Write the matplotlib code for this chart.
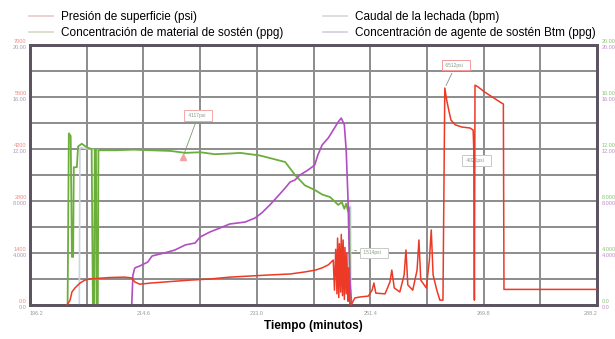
import matplotlib.pyplot as plt
from matplotlib.lines import Line2D

plt.rcParams['font.family'] = ['Liberation Sans', 'DejaVu Sans']

# presion de superficie (psi) vs tiempo (min)
t_pres = [202.2, 202.7, 203.0, 203.5, 204.3, 205.1, 205.9, 207.5, 209.2, 211.5,
          212.7, 213.2, 214.0, 215.7, 217.3, 219.7, 222.2, 225.4, 228.6, 231.9,
          235.2, 238.4, 240.8, 242.5, 243.6, 244.6, 245.4,
          245.6, 245.8, 246.0, 246.1, 246.3, 246.4, 246.6, 246.7, 246.9, 247.0,
          247.2, 247.3, 247.5, 247.6, 247.8, 247.9, 248.1, 248.3,
          248.9, 249.7, 251.1, 251.7, 252.0, 252.3, 253.8, 254.6, 254.9, 255.3,
          256.2, 256.9, 257.2, 257.5, 258.3, 259.0, 259.3, 259.6, 260.5, 261.0,
          261.3, 261.6, 262.2, 262.7, 263.2, 263.5, 263.8, 264.2, 264.5, 265.2,
          266.3, 267.6, 268.1, 268.2, 268.3, 268.4, 268.9, 270.0, 271.2, 272.5,
          273.0, 273.1, 288.2]
pres = [0, 130, 350, 460, 590, 670, 700, 720, 740, 750,
        730, 620, 560, 590, 610, 640, 670, 700, 750, 780,
        810, 835, 890, 940, 1000, 1080, 1210,
        400, 1500, 300, 1800, 200, 1650, 350, 1900, 250, 1750,
        150, 1550, 300, 1400, 100, 1000, 50, 0,
        190, 215, 240, 400, 590, 320, 300, 620, 940, 460,
        350, 810, 1480, 540, 400, 940, 1750, 670, 460, 1210,
        2020, 810, 400, 130, 130, 5840, 5520, 5200, 4980, 4850,
        4790, 4765, 4710, 4170, 130, 5920, 5870, 5730, 5600, 5460,
        5410, 420, 420]

# concentracion de material de sosten (ppg)
t_mat = [202.3, 202.5, 202.8, 203.0, 203.2, 203.3, 203.8, 204.0, 204.6, 205.5,
         206.2, 206.4, 206.6, 206.7, 206.9, 207.0, 207.2, 207.3, 210.0, 213.0,
         216.0, 219.0, 221.4, 223.8, 226.2, 228.6, 230.3, 233.5, 237.6, 239.2,
         240.8, 242.4, 243.6, 244.9, 246.2, 246.8, 247.2, 247.5, 247.8, 248.0,
         248.1, 248.3]
mat = [0, 13.2, 13.0, 3.7, 3.7, 10.6, 10.6, 12.2, 12.4, 12.1,
       12.0, 0, 0, 12.0, 12.0, 0, 0, 11.9, 11.9, 11.95,
       11.9, 11.85, 11.7, 11.75, 11.6, 11.65, 11.7, 11.5, 11.0, 10.0,
       9.2, 8.85, 8.5, 8.3, 7.7, 7.9, 7.4, 7.8, 7.2, 7.5,
       0, 0]

# concentracion de agente de sosten Btm (ppg)
t_btm = [212.4, 212.7, 212.9, 213.2, 214.0, 215.3, 216.0, 217.3, 218.6, 219.7,
         221.4, 223.0, 223.8, 225.4, 227.0, 228.6, 231.1, 232.7, 233.8, 235.1,
         236.3, 237.6, 238.4, 239.2, 240.0, 241.3, 242.4, 242.9, 243.6, 244.6,
         245.4, 246.2, 246.7, 247.2, 247.5, 247.8, 248.1, 248.4]
btm = [0, 0, 2.3, 2.85, 3.0, 3.3, 3.77, 3.92, 4.08, 4.23,
       4.62, 4.77, 5.23, 5.62, 5.92, 6.23, 6.38, 6.69, 7.08, 7.69,
       8.31, 9.0, 9.46, 9.62, 10.0, 10.38, 10.77, 11.54, 12.31, 12.85,
       13.46, 14.08, 14.38, 13.85, 11.9, 8.08, 1.9, 0]

# caudal de la lechada (bpm), casi oculto bajo las otras curvas
t_caudal = [204.2, 204.3, 207.3, float('nan'), 248.2, 248.25]
caudal = [0, 12.1, 11.9, float('nan'), 7.6, 0]

x_ticks = [196.2, 205.4, 214.6, 223.8, 233.0, 242.2, 251.4, 260.6, 269.8, 279.0, 288.2]
x_labels = ['196.2', '', '214.6', '', '233.0', '', '251.4', '', '269.8', '', '288.2']
psi_labels = ['0.0', '1400', '2800', '4200', '5600', '7000']
ppg_labels = ['0.0', '4.000', '8.000', '12.00', '16.00', '20.00']

# notas: (texto, t marca, psi marca, t caja, psi caja, color borde)
notes = [('4117psi', 221.0, 3984, 223.5, 5100, '#f2a8a8'),
         ('6512psi', 263.5, 5840, 265.3, 6460, '#f29a9a'),
         ('4021psi', 268.2, 4170, 268.6, 3900, '#c8c8c8'),
         ('1514psi', 248.4, 1480, 252.0, 1400, '#c8c8c8')]

fig = plt.figure(figsize=(6.15, 3.39), dpi=100)
ax = fig.add_axes([0.0488, 0.1003, 0.922, 0.767])
ax2 = ax.twinx()

ax.set_xlim(196.2, 288.2)
ax.set_ylim(0, 7000)
ax2.set_ylim(0, 20)

ax.set_xticks(x_ticks)
ax.set_xticklabels(x_labels, fontsize=4, color='#9a9a9a')
ax.set_yticks(range(0, 7001, 700))
ax.set_yticklabels([])
ax.tick_params(length=0, pad=4)
ax2.set_yticks([])
labs = ax.get_xticklabels()
labs[0].set_ha('left')
labs[-1].set_ha('right')
ax.grid(True, color='#8c8c8c', lw=1.4)
ax.set_axisbelow(True)
for a in (ax, ax2):
    for s in a.spines.values():
        s.set_color('#5c5460')
        s.set_linewidth(2)

ax2.plot(t_caudal, caudal, color='#cdd5e2', lw=1.2, zorder=1)
ax2.plot(t_mat, mat, color='#6cae3c', lw=1.3, zorder=2)
ax2.plot(t_btm, btm, color='#b24dc4', lw=1.2, zorder=2)
ax2.plot(t_pres, [p / 350.0 for p in pres], color='#ec3a26', lw=1.1, zorder=3)

ax.set_xlabel('Tiempo (minutos)', fontsize=8.5, fontweight='bold', labelpad=3)

ytr = ax.get_yaxis_transform()
for i in range(6):
    v = i * 1400
    ax.text(-0.006, v + 20, psi_labels[i], transform=ytr, ha='right', va='bottom',
            fontsize=4, color='#ee8a8a')
    ax.text(-0.006, v - 10, ppg_labels[i], transform=ytr, ha='right', va='top',
            fontsize=4, color='#a89ab8')
    ax.text(1.008, v + 20, ppg_labels[i], transform=ytr, ha='left', va='bottom',
            fontsize=4, color='#8cc47a')
    ax.text(1.008, v - 10, ppg_labels[i], transform=ytr, ha='left', va='top',
            fontsize=4, color='#c08ac8')

for txt, tm, pm, tb, pb, ec in notes:
    ax.annotate(' ' + txt + '   ', xy=(tm, pm), xytext=(tb, pb), fontsize=3.5,
                color='#8a9a88', ha='center', va='center', zorder=5,
                bbox=dict(boxstyle='square,pad=0.6', fc='white', ec=ec, lw=0.7),
                arrowprops=dict(arrowstyle='-', color='#7a9a70', lw=0.6))
ax.plot([221.0], [3984], marker='^', ms=4, color='#f4a0a0', zorder=6)

handles = [Line2D([], [], color='#e6caca', lw=1.2),
           Line2D([], [], color='#cfdcc4', lw=1.2),
           Line2D([], [], color='#d8d8d8', lw=1.2),
           Line2D([], [], color='#d6cce0', lw=1.2)]
names = ['Presión de superficie (psi)',
         'Concentración de material de sostén (ppg)',
         'Caudal de la lechada (bpm)',
         'Concentración de agente de sostén Btm (ppg)']
fig.legend(handles, names, loc='upper left', bbox_to_anchor=(0.03, 0.998), ncol=2,
           frameon=False, fontsize=8.5, handlelength=2.0, handletextpad=0.7,
           columnspacing=3.4, labelspacing=0.35)

fig.savefig('out.png', dpi=100)
